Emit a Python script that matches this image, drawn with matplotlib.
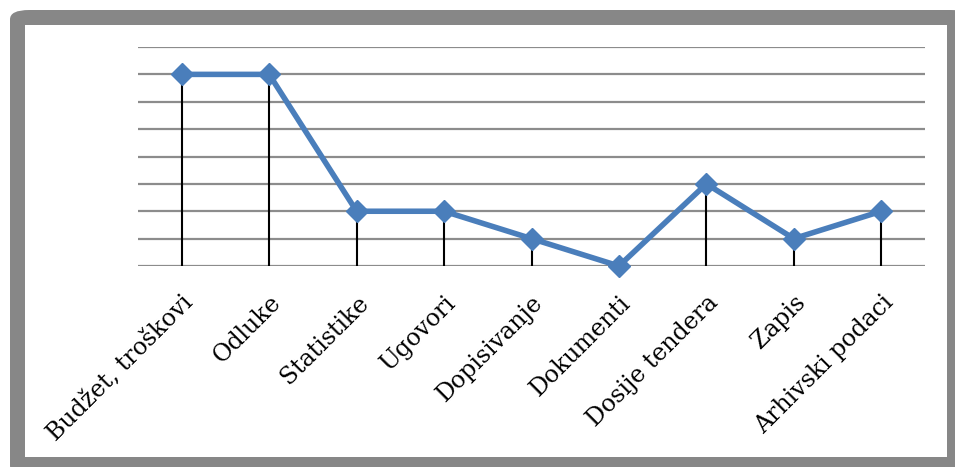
import matplotlib
matplotlib.use('Agg')
import matplotlib.pyplot as plt
from matplotlib.patches import FancyBboxPatch, Rectangle

# Data
categories = ['Budžet, troškovi', 'Odluke', 'Statistike', 'Ugovori', 'Dopisivanje',
              'Dokumenti', 'Dosije tendera', 'Zapis', 'Arhivski podaci']
values = [7, 7, 2, 2, 1, 0, 3, 1, 2]

W, H = 955, 467
fig = plt.figure(figsize=(W / 100, H / 100), dpi=100)
fig.patch.set_facecolor('white')

# grey rounded frame
frame = FancyBboxPatch((10 / W, 1 - 475 / H), 960 / W, 465 / H,
                       boxstyle='round,pad=0,rounding_size=0.02',
                       transform=fig.transFigure, facecolor='#878787',
                       edgecolor='none', zorder=-2)
fig.patches.append(frame)
inner = Rectangle((25 / W, 1 - 457 / H), 922 / W, 432 / H,
                  transform=fig.transFigure, facecolor='white',
                  edgecolor='none', zorder=-1)
fig.patches.append(inner)

ax = fig.add_axes([138 / W, 1 - 266 / H, 787 / W, 219 / H])
ax.set_zorder(2)
ax.set_facecolor('none')
x = list(range(len(categories)))

for yv in range(0, 9):
    ax.axhline(yv, color='#8c8c8c', lw=1.6, zorder=1)
ax.vlines(x, 0, values, color='black', lw=1.5, zorder=2)
ax.plot(x, values, color='#4a7ebb', lw=4, marker='D', markersize=11,
        markerfacecolor='#4a7ebb', markeredgecolor='#4a7ebb', zorder=3,
        clip_on=False)

ax.set_xlim(-0.5, len(categories) - 0.5)
ax.set_ylim(0, 8)
ax.set_yticks([])
ax.set_xticks(x)
ax.set_xticklabels(categories, rotation=45, ha='right', rotation_mode='anchor',
                   fontsize=17, family='DejaVu Serif')
ax.tick_params(axis='x', length=0, pad=18)
for s in ax.spines.values():
    s.set_visible(False)

fig.savefig('out.png', dpi=100)
